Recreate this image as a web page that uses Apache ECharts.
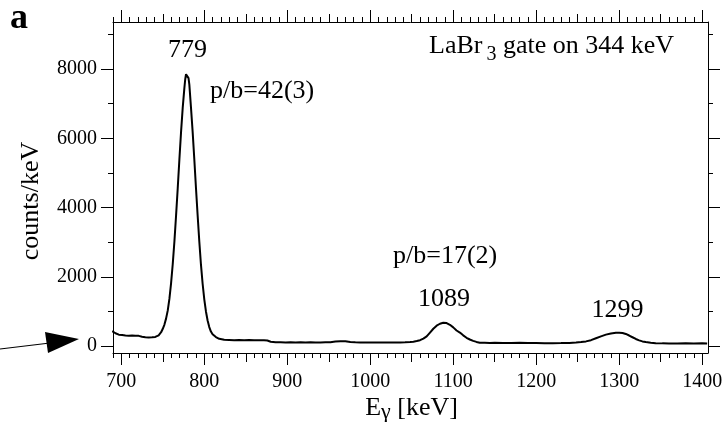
<!DOCTYPE html>
<html><head><meta charset="utf-8">
<script src="https://cdn.jsdelivr.net/npm/echarts@6/dist/echarts.min.js"></script>
<style>html,body{margin:0;padding:0;background:#fff}#c{width:723px;height:422px}</style>
</head><body><div id="c"></div>
<script>
// gamma energies (keV) and counts/keV
const energies = [689,691,693,695,697,699,701,703,705,707,709,711,713,715,717,719,721,723,725,727,729,731,733,735,737,739,741,743,745,746,748,750,752,754,756,758,760,762,764,766,768,770,772,774,776,777,778,779,780,781,782,784,786,788,790,792,794,796,798,800,802,804,806,808,810,812,814,816,818,820,824,830,836,842,848,854,860,866,872,876,880,886,892,898,904,910,916,922,928,934,940,946,952,958,964,970,976,982,988,994,1000,1006,1012,1018,1024,1030,1036,1042,1048,1052,1056,1060,1064,1068,1072,1076,1080,1084,1088,1090,1092,1096,1100,1104,1108,1112,1116,1120,1124,1128,1132,1138,1144,1150,1160,1170,1180,1190,1200,1210,1220,1230,1240,1248,1254,1260,1266,1272,1278,1284,1290,1296,1300,1304,1308,1312,1316,1320,1324,1328,1332,1338,1344,1352,1360,1370,1380,1390,1400,1406];
const counts = [430,410,370,340,330,320,320,310,305,300,300,295,305,300,300,290,295,285,270,260,255,255,250,250,255,255,265,280,310,330,400,500,620,800,1030,1370,1820,2370,3020,3770,4560,5390,6180,6880,7450,7700,7850,7900,7860,7740,7550,6880,6180,5390,4560,3770,3020,2350,1800,1350,1000,740,550,420,340,290,260,230,210,195,180,175,170,175,170,172,168,170,165,160,125,110,108,105,110,105,108,104,110,106,104,108,112,130,142,140,120,108,105,104,102,106,100,104,102,106,104,110,118,128,145,170,215,280,390,500,590,645,675,678,665,615,540,450,390,310,240,190,150,120,98,95,92,94,92,90,93,88,87,84,82,86,92,100,115,135,170,225,280,330,365,385,388,378,350,305,255,205,165,135,115,98,85,78,76,75,78,76,80,75];
const xMajorTicks = [700,800,900,1000,1100,1200,1300,1400];
const yMajorTicks = [0,2000,4000,6000,8000];
const yMinorTicks = [1000,3000,5000,7000,9000];
const peakLabels = ['779','1089','1299'];
const pbLabels = ['p/b=42(3)','p/b=17(2)'];

const XMIN = 690, XMAX = 1407, YMIN = -200, YMAX = 9360;
const xMidTicks = [], xMinorTicks = [];
for (let v = 690; v <= 1400; v += 10) {
  if (v % 100 === 50) xMidTicks.push(v);
  else if (v % 100 !== 0) xMinorTicks.push(v);
}
const FONT = '"Liberation Serif", "Times New Roman", serif';
const plain = v => String(v);

function xAx(pos, vals, len, line, labels) {
  return {
    type: 'value', gridIndex: 0, position: pos, min: XMIN, max: XMAX,
    axisLine: {show: line, onZero: false, lineStyle: {color: '#000', width: 1}},
    axisTick: {show: true, customValues: vals, length: len, inside: false, lineStyle: {color: '#000', width: 1}},
    axisLabel: {show: labels, customValues: vals, formatter: plain, color: '#000', fontFamily: FONT, fontSize: 20, margin: 19},
    splitLine: {show: false}
  };
}
function yAx(pos, vals, len, line, labels) {
  return {
    type: 'value', gridIndex: 0, position: pos, min: YMIN, max: YMAX,
    axisLine: {show: line, onZero: false, lineStyle: {color: '#000', width: 1}},
    axisTick: {show: true, customValues: vals, length: len, inside: false, lineStyle: {color: '#000', width: 1}},
    axisLabel: {show: labels, customValues: vals, formatter: plain, color: '#000', fontFamily: FONT, fontSize: 20, margin: 16},
    splitLine: {show: false}
  };
}

const chart = echarts.init(document.getElementById('c'), null, {renderer: 'canvas'});
const txt = (x, y, text, size, align) => ({
  type: 'text', x: x, y: y, silent: true,
  style: {text: text, font: size + 'px ' + FONT, fill: '#000',
    textAlign: align, align: align, textVerticalAlign: 'middle', verticalAlign: 'middle'}
});

chart.setOption({
  animation: false,
  backgroundColor: '#fff',
  grid: {left: 113, top: 22, width: 595, height: 331, outerBoundsMode: 'none'},
  xAxis: [
    xAx('bottom', xMajorTicks, 12, true, true),
    xAx('bottom', xMidTicks, 9, false, false),
    xAx('bottom', xMinorTicks, 5, false, false),
    xAx('top', xMajorTicks, 12, true, false),
    xAx('top', xMidTicks, 8, false, false),
    xAx('top', xMinorTicks, 5, false, false)
  ],
  yAxis: [
    yAx('left', yMajorTicks, 12, true, true),
    yAx('left', yMinorTicks, 5, false, false),
    yAx('right', yMajorTicks, 12, true, false),
    yAx('right', yMinorTicks, 5, false, false)
  ],
  series: [{
    type: 'line', xAxisIndex: 0, yAxisIndex: 0,
    data: energies.map((e, i) => [e, counts[i]]),
    showSymbol: false, symbol: 'none',
    lineStyle: {color: '#000', width: 2},
    clip: true
  }],
  graphic: [
    {type: 'text', x: 10, y: 19, silent: true,
     style: {text: 'a', font: 'bold 36px ' + FONT, fill: '#000', textAlign: 'left', align: 'left', textVerticalAlign: 'middle', verticalAlign: 'middle'}},
    txt(187.5, 50, peakLabels[0], 26, 'center'),
    txt(444, 299.5, peakLabels[1], 26, 'center'),
    txt(617.5, 310.5, peakLabels[2], 26, 'center'),
    txt(210, 91, pbLabels[0], 26, 'left'),
    txt(393, 256.5, pbLabels[1], 26, 'left'),
    {type: 'text', x: 429, y: 46, silent: true,
     style: {text: '{m|LaBr}{s|3}{m| gate on 344 keV}', fill: '#000', textAlign: 'left', align: 'left',
       textVerticalAlign: 'middle', verticalAlign: 'middle',
       rich: {m: {fontFamily: FONT, fontSize: 26, lineHeight: 26, fill: '#000', color: '#000'},
              s: {fontFamily: FONT, fontSize: 20, lineHeight: 20, padding: [18, 0, 0, 4], fill: '#000', color: '#000'}}}},
    {type: 'text', x: 411.5, y: 408, silent: true,
     style: {text: '{m|E}{g|γ}{m| [keV]}', fill: '#000', textAlign: 'center', align: 'center',
       textVerticalAlign: 'middle', verticalAlign: 'middle',
       rich: {m: {fontFamily: FONT, fontSize: 26, lineHeight: 30, fill: '#000', color: '#000'},
              g: {fontFamily: FONT, fontSize: 22, lineHeight: 22, padding: [8, 0, 0, 0], fill: '#000', color: '#000'}}}},
    {type: 'text', x: 31, y: 201, rotation: Math.PI / 2, silent: true,
     style: {text: 'counts/keV', font: '26px ' + FONT, fill: '#000', textAlign: 'center', align: 'center', textVerticalAlign: 'middle', verticalAlign: 'middle'}},
    {type: 'line', silent: true, shape: {x1: 0, y1: 349, x2: 50, y2: 343}, style: {stroke: '#000', lineWidth: 1.2}},
    {type: 'polygon', silent: true, shape: {points: [[45, 332], [79, 339], [48, 353]]}, style: {fill: '#000'}}
  ]
});
</script>
</body></html>
